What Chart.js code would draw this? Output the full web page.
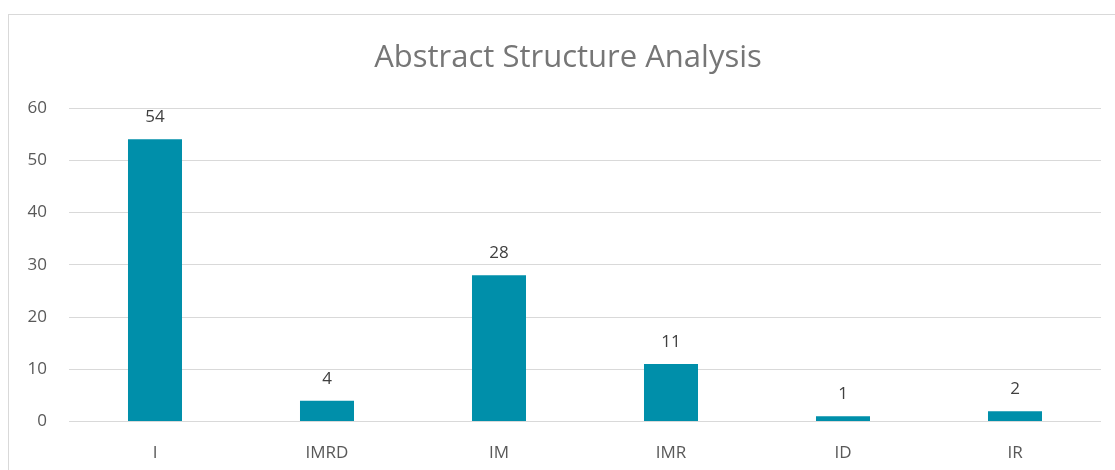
<!DOCTYPE html>
<html>
<head>
<meta charset="utf-8">
<script src="https://cdn.jsdelivr.net/npm/chart.js@4"></script>
<style>
  html, body { margin: 0; padding: 0; background: #fff; overflow: hidden; }
  #box {
    position: absolute; left: 8px; top: 14px;
    width: 1120px; height: 470px;
    border: 1px solid #d9d9d9; box-sizing: border-box;
  }
  #wrap { position: absolute; left: 0; top: 0; width: 1106px; height: 469px; }
</style>
</head>
<body>
<div id="box"><div id="wrap"><canvas id="chart"></canvas></div></div>
<script>
// data
const categories = ['I', 'IMRD', 'IM', 'IMR', 'ID', 'IR'];
const counts = [54, 4, 28, 11, 1, 2];
const yTicks = [0, 10, 20, 30, 40, 50, 60];
const titleText = 'Abstract Structure Analysis';

const FONT = '"Open Sans", "Liberation Sans", sans-serif';

// title, centred a bit right of the canvas middle like the original
const titleDraw = {
    id: 'titleDraw',
    afterDraw(chart) {
        const ctx = chart.ctx;
        ctx.save();
        ctx.fillStyle = '#767676';
        ctx.font = '31px ' + FONT;
        ctx.textAlign = 'center';
        ctx.textBaseline = 'middle';
        ctx.fillText(titleText, 559, 43);
        ctx.restore();
    }
};

// numbers above each bar
const barLabels = {
    id: 'barLabels',
    afterDatasetsDraw(chart) {
        const ctx = chart.ctx;
        const meta = chart.getDatasetMeta(0);
        ctx.save();
        ctx.fillStyle = '#404040';
        ctx.font = '17px ' + FONT;
        ctx.textAlign = 'center';
        ctx.textBaseline = 'middle';
        meta.data.forEach((bar, i) => {
            ctx.fillText(String(counts[i]), bar.x, bar.y - 22);
        });
        ctx.restore();
    }
};

new Chart(document.getElementById('chart'), {
    type: 'bar',
    data: {
        labels: categories,
        datasets: [{
            data: counts,
            backgroundColor: '#008FAA',
            borderWidth: 0,
            categoryPercentage: 1,
            barPercentage: 0.314
        }]
    },
    options: {
        responsive: true,
        maintainAspectRatio: false,
        animation: false,
        layout: { padding: { left: 0, right: 14, top: 93, bottom: 0 } },
        plugins: {
            legend: { display: false },
            tooltip: { enabled: false },
            title: { display: false }
        },
        scales: {
            x: {
                grid: { display: false, drawTicks: false },
                border: { display: false },
                ticks: {
                    color: '#595959',
                    font: { family: FONT, size: 17 },
                    padding: 21
                }
            },
            y: {
                min: 0,
                max: 60,
                afterBuildTicks(scale) {
                    scale.ticks = yTicks.map(v => ({ value: v }));
                },
                afterFit(scale) { scale.width = 60; },
                grid: { color: '#d9d9d9', lineWidth: 1, drawTicks: false },
                border: { display: false },
                ticks: {
                    color: '#595959',
                    font: { family: FONT, size: 17 },
                    padding: 22
                }
            }
        }
    },
    plugins: [barLabels, titleDraw]
});
</script>
</body>
</html>
